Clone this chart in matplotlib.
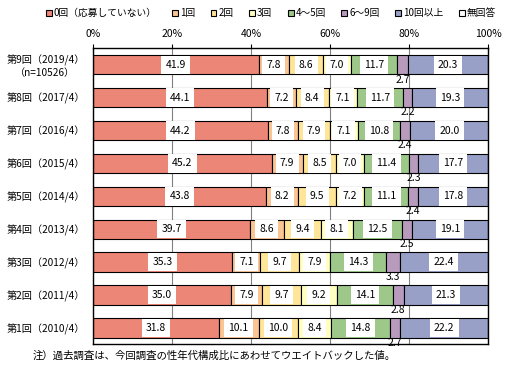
import numpy as np
import matplotlib
matplotlib.use("Agg")
import matplotlib.pyplot as plt

plt.rcParams['font.family'] = ['Noto Sans CJK JP', 'DejaVu Sans']

# rounds (top to bottom)
rounds = ['第9回（2019/4）\n（n=10526）', '第8回（2017/4）', '第7回（2016/4）',
          '第6回（2015/4）', '第5回（2014/4）', '第4回（2013/4）',
          '第3回（2012/4）', '第2回（2011/4）', '第1回（2010/4）']

categories = ['0回（応募していない）', '1回', '2回', '3回', '4～5回', '6～9回', '10回以上', '無回答']

v_0 = [41.9, 44.1, 44.2, 45.2, 43.8, 39.7, 35.3, 35.0, 31.8]
v_1 = [7.8, 7.2, 7.8, 7.9, 8.2, 8.6, 7.1, 7.9, 10.1]
v_2 = [8.6, 8.4, 7.9, 8.5, 9.5, 9.4, 9.7, 9.7, 10.0]
v_3 = [7.0, 7.1, 7.1, 7.0, 7.2, 8.1, 7.9, 9.2, 8.4]
v_45 = [11.7, 11.7, 10.8, 11.4, 11.1, 12.5, 14.3, 14.1, 14.8]
v_69 = [2.7, 2.2, 2.4, 2.3, 2.4, 2.5, 3.3, 2.8, 2.7]
v_10 = [20.3, 19.3, 20.0, 17.7, 17.8, 19.1, 22.4, 21.3, 22.2]
v_na = [0.0, 0.0, 0.0, 0.0, 0.0, 0.0, 0.0, 0.0, 0.0]

series = [v_0, v_1, v_2, v_3, v_45, v_69, v_10, v_na]
colors = ['#EC8677', '#FAC493', '#FFE597', '#FFFFC2', '#9DC88A', '#B89ABD', '#98A0C8', '#FFFFFF']

fig = plt.figure(figsize=(5.06, 3.74), dpi=100)
ax = fig.add_axes([0.1838, 0.0789, 0.7806, 0.7921])

y = np.arange(len(rounds))
left = np.zeros(len(rounds))
for i, (vals, c) in enumerate(zip(series, colors)):
    vals = np.array(vals)
    ax.barh(y, vals, left=left, height=0.59, color=c, edgecolor='black',
            linewidth=0.8, label=categories[i], zorder=2)
    for j in range(len(rounds)):
        if i == 7:
            continue
        xc = left[j] + vals[j] / 2
        if i == 5:
            ax.text(xc, y[j] + 0.3, f'{vals[j]:.1f}', ha='center', va='top',
                    fontsize=7.5, zorder=4)
        else:
            ax.text(xc, y[j], f'{vals[j]:.1f}', ha='center', va='center',
                    fontsize=7.5, zorder=4,
                    bbox=dict(fc='white', ec='none', pad=3))
    left = left + vals

ax.set_xlim(0, 100)
ax.set_ylim(len(rounds) - 0.5, -0.5)
ax.set_yticks(y)
ax.set_yticklabels(rounds, fontsize=7.3)
for t in ax.get_yticklabels():
    t.set_multialignment('center')
ax.tick_params(axis='y', length=0, pad=6)
ax.xaxis.tick_top()
ax.set_xticks([0, 20, 40, 60, 80, 100])
ax.set_xticklabels(['0%', '20%', '40%', '60%', '80%', '100%'], fontsize=7.5)
ax.tick_params(axis='x', length=3, pad=4)
ax.grid(axis='x', color='#808080', linewidth=0.8, zorder=0)
for s in ax.spines.values():
    s.set_linewidth(1.0)

fig.legend(loc='center', bbox_to_anchor=(0.535, 0.965), ncol=8, fontsize=7,
           frameon=False, handlelength=0.6, handleheight=0.6, handletextpad=0.2,
           columnspacing=1.6, borderaxespad=0)

fig.text(0.065, 0.048, '注）過去調査は、今回調査の性年代構成比にあわせてウエイトバックした値。',
         fontsize=7.5, va='center')

fig.savefig('out.png', dpi=100)
